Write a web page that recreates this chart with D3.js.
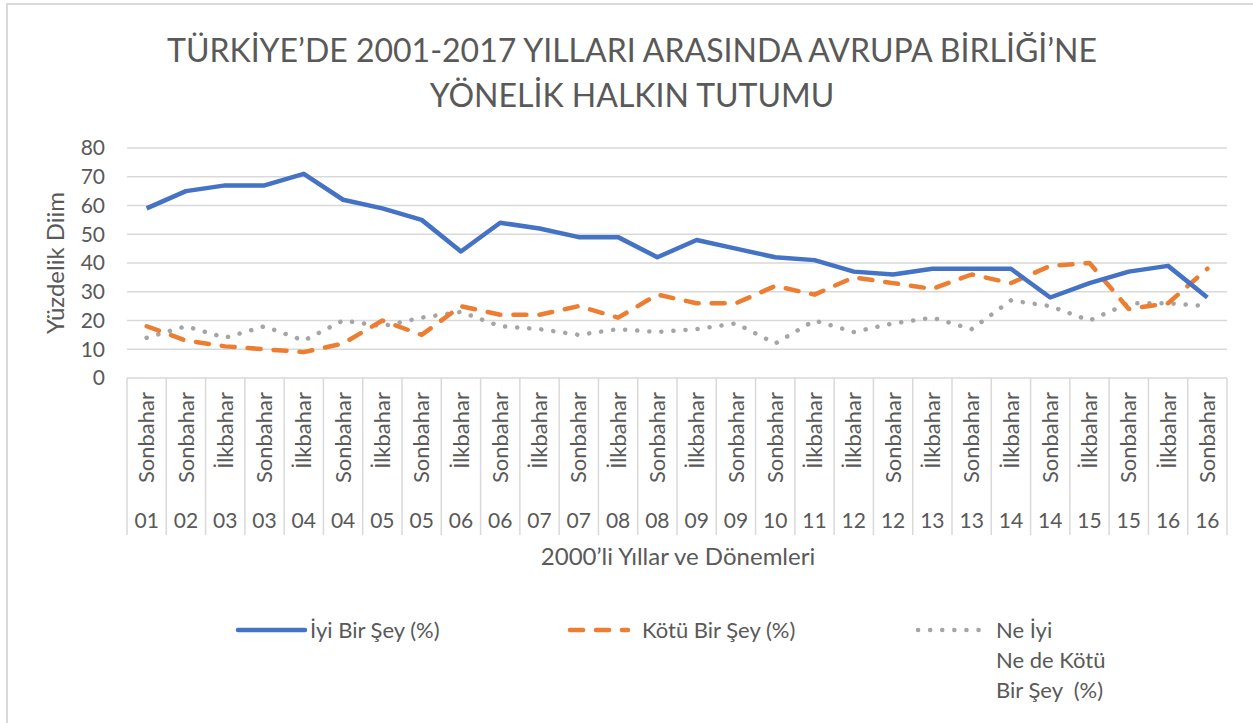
<!DOCTYPE html>
<html>
<head>
<meta charset="utf-8">
<script src="https://cdn.jsdelivr.net/npm/d3@7"></script>
<style>
  body { margin: 0; background: #fff; }
  text { font-family: Lato, 'Open Sans', sans-serif; fill: #595959; }
</style>
</head>
<body>
<svg></svg>
<script>
const years = ['01','02','03','03','04','04','05','05','06','06','07','07','08','08',
               '09','09','10','11','12','12','13','13','14','14','15','15','16','16'];
const seasons = ['Sonbahar','Sonbahar','İlkbahar','Sonbahar','İlkbahar','Sonbahar','İlkbahar','Sonbahar',
                 'İlkbahar','Sonbahar','İlkbahar','Sonbahar','İlkbahar','Sonbahar','İlkbahar','Sonbahar',
                 'Sonbahar','İlkbahar','İlkbahar','Sonbahar','İlkbahar','Sonbahar','İlkbahar','Sonbahar',
                 'İlkbahar','Sonbahar','İlkbahar','Sonbahar'];
const iyi   = [59,65,67,67,71,62,59,55,44,54,52,49,49,42,48,45,42,41,37,36,38,38,38,28,33,37,39,28];
const kotu  = [18,13,11,10,9,12,20,15,25,22,22,25,21,29,26,26,32,29,35,33,31,36,33,39,40,24,26,38];
const neIyi = [14,18,14,18,13,20,18,21,23,18,17,15,17,16,17,19,12,20,16,19,21,17,27,25,20,26,26,25];
const yTicks = [0,10,20,30,40,50,60,70,80];

const svg = d3.select('svg')
	.attr('width', 1253)
	.attr('height', 723);

const plotLeft = 127, plotRight = 1227, plotTop = 148, plotBottom = 378;

// chart frame (cut off at right/bottom like the original)
svg.append('rect')
	.attr('x', 7).attr('y', 4)
	.attr('width', 1260).attr('height', 730)
	.attr('fill', 'none')
	.attr('stroke', '#d9d9d9')
	.attr('stroke-width', 2);

const title = svg.append('text')
	.attr('text-anchor', 'middle')
	.attr('font-size', 32);
title.append('tspan').attr('x', 632).attr('y', 62)
	.text('TÜRKİYE’DE 2001-2017 YILLARI ARASINDA AVRUPA BİRLİĞİ’NE');
title.append('tspan').attr('x', 632).attr('y', 107)
	.text('YÖNELİK HALKIN TUTUMU');

const x = d3.scaleBand()
	.domain(d3.range(years.length))
	.range([plotLeft, plotRight]);

const y = d3.scaleLinear()
	.domain([0, 80])
	.range([plotBottom, plotTop]);

// gridlines
svg.append('g')
	.selectAll('line')
	.data(yTicks.filter(d => d > 0))
	.join('line')
		.attr('x1', plotLeft).attr('x2', plotRight)
		.attr('y1', d => y(d)).attr('y2', d => y(d))
		.attr('stroke', '#d9d9d9')
		.attr('stroke-width', 1.5);

// y labels
svg.append('g')
	.selectAll('text')
	.data(yTicks)
	.join('text')
		.attr('x', 105)
		.attr('y', d => y(d))
		.attr('dy', '0.35em')
		.attr('text-anchor', 'end')
		.attr('font-size', 21)
		.text(d => d);

svg.append('text')
	.attr('transform', `translate(64, ${(plotTop + plotBottom) / 2}) rotate(-90)`)
	.attr('text-anchor', 'middle')
	.attr('font-size', 24)
	.text('Yüzdelik Diim');

// category axis: baseline + separators
svg.append('line')
	.attr('x1', plotLeft).attr('x2', plotRight)
	.attr('y1', plotBottom).attr('y2', plotBottom)
	.attr('stroke', '#d9d9d9')
	.attr('stroke-width', 1.5);

svg.append('g')
	.selectAll('line')
	.data(d3.range(years.length + 1))
	.join('line')
		.attr('x1', d => plotLeft + d * x.step())
		.attr('x2', d => plotLeft + d * x.step())
		.attr('y1', plotBottom).attr('y2', 535)
		.attr('stroke', '#d9d9d9')
		.attr('stroke-width', 1.5);

svg.append('g')
	.selectAll('text')
	.data(seasons)
	.join('text')
		.attr('transform', (d, i) => `translate(${x(i) + x.bandwidth() / 2}, 392) rotate(-90)`)
		.attr('dy', '0.35em')
		.attr('text-anchor', 'end')
		.attr('font-size', 22)
		.text(d => d);

svg.append('g')
	.selectAll('text')
	.data(years)
	.join('text')
		.attr('x', (d, i) => x(i) + x.bandwidth() / 2)
		.attr('y', 521)
		.attr('dy', '0.35em')
		.attr('text-anchor', 'middle')
		.attr('font-size', 21)
		.text(d => d);

svg.append('text')
	.attr('x', 678).attr('y', 565)
	.attr('text-anchor', 'middle')
	.attr('font-size', 24)
	.text('2000’li Yıllar ve Dönemleri');

// series
const line = d3.line()
	.x((d, i) => x(i) + x.bandwidth() / 2)
	.y(d => y(d));

const series = [
	{ values: neIyi, color: '#a5a5a5', dash: '0.1,12' },
	{ values: kotu,  color: '#ed7d31', dash: '13,13' },
	{ values: iyi,   color: '#4472c4', dash: null }
];

svg.append('g')
	.selectAll('path')
	.data(series)
	.join('path')
		.attr('d', d => line(d.values))
		.attr('fill', 'none')
		.attr('stroke', d => d.color)
		.attr('stroke-width', 4.5)
		.attr('stroke-linejoin', 'round')
		.attr('stroke-linecap', d => d.dash ? 'round' : 'butt')
		.attr('stroke-dasharray', d => d.dash);

// legend
const legend = [
	{ lines: ['İyi Bir Şey (%)'], color: '#4472c4', dash: null, x1: 238, x2: 305, tx: 310 },
	{ lines: ['Kötü Bir Şey (%)'], color: '#ed7d31', dash: '13,13', x1: 570, x2: 628, tx: 642 },
	{ lines: ['Ne İyi', 'Ne de Kötü', 'Bir Şey  (%)'], color: '#a5a5a5', dash: '0.1,12', x1: 918, x2: 980, tx: 996 }
];

const lg = svg.append('g')
	.selectAll('g')
	.data(legend)
	.join('g');

lg.append('line')
	.attr('x1', d => d.x1).attr('x2', d => d.x2)
	.attr('y1', 630).attr('y2', 630)
	.attr('stroke', d => d.color)
	.attr('stroke-width', 4.5)
	.attr('stroke-linecap', 'round')
	.attr('stroke-dasharray', d => d.dash);

lg.append('text')
	.attr('font-size', 22)
	.style('white-space', 'pre')
	.selectAll('tspan')
	.data(d => d.lines.map((t, i) => ({ t, i, x: d.tx })))
	.join('tspan')
		.attr('x', d => d.x)
		.attr('y', d => 630 + d.i * 30)
		.attr('dy', '0.35em')
		.text(d => d.t);
</script>
</body>
</html>
